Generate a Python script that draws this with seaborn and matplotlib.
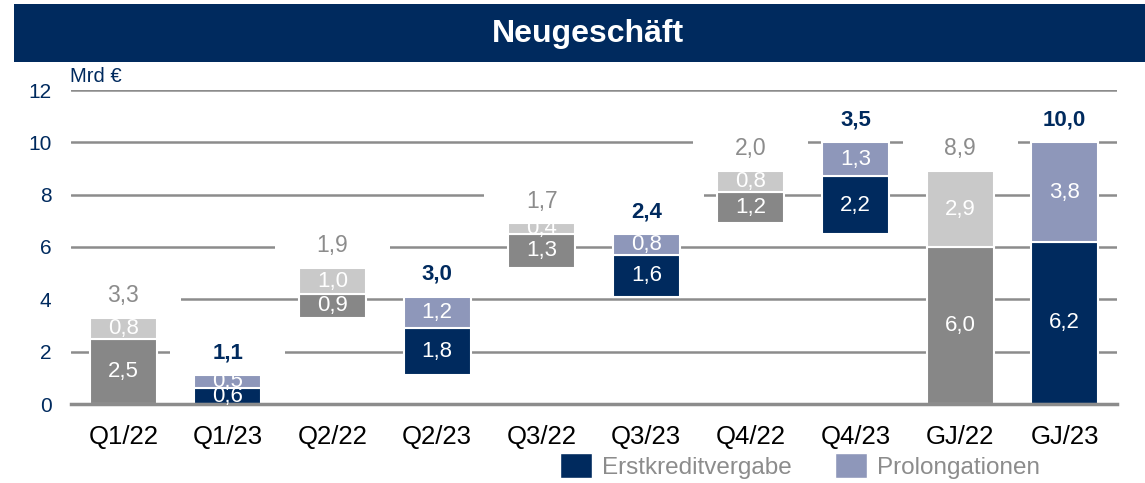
import numpy as np
import matplotlib.pyplot as plt
from matplotlib.patches import Rectangle, Patch
import seaborn as sns

# -----------------------------------------------------------------------------
# Data (Mrd €)
# -----------------------------------------------------------------------------
categories = ["Q1/22", "Q1/23", "Q2/22", "Q2/23", "Q3/22",
              "Q3/23", "Q4/22", "Q4/23", "GJ/22", "GJ/23"]
erstkredit = [2.5, 0.6, 0.9, 1.8, 1.3, 1.6, 1.2, 2.2, 6.0, 6.2]
prolongation = [0.8, 0.5, 1.0, 1.2, 0.4, 0.8, 0.8, 1.3, 2.9, 3.8]
yticks = [0, 2, 4, 6, 8, 10, 12]

# -----------------------------------------------------------------------------
# Styling
# -----------------------------------------------------------------------------
sns.set_theme(style="white")
plt.rcParams["font.family"] = ["Liberation Sans", "DejaVu Sans"]

navy = "#002A5E"
lavender = "#8E97BA"
dgray = "#878787"
lgray = "#C9C9C9"
gridc = "#8C8C8C"
txtgray = "#8C8C8C"

totals = [a + b for a, b in zip(erstkredit, prolongation)]

# floating bars: quarters stack on the previous quarters of the same year
base = []
running = {"22": 0.0, "23": 0.0}
for cat, t in zip(categories, totals):
    yr = cat[-2:]
    if cat.startswith("GJ"):
        base.append(0.0)
    else:
        base.append(running[yr])
        running[yr] += t
base = np.array(base)
mid = base + np.array(erstkredit)

is23 = [c.endswith("23") for c in categories]


def fmt(v):
    return f"{v:.1f}".replace(".", ",")


# -----------------------------------------------------------------------------
# Plot
# -----------------------------------------------------------------------------
W, H = 1145, 483
fig = plt.figure(figsize=(W / 100, H / 100), dpi=100)
ax = fig.add_axes([71 / W, 1 - 404 / H, (1117 - 71) / W, (404 - 90) / H])

# title banner
fig.patches.append(Rectangle((14 / W, 1 - 62 / H), 1 - 14 / W, 58 / H,
                             transform=fig.transFigure, facecolor=navy,
                             edgecolor="none", zorder=0))
fig.text(588 / W, 1 - 34 / H, "Neugeschäft", color="white", fontsize=23,
         fontweight="bold", ha="center", va="center")

bw = 0.64
sns.barplot(x=categories, y=erstkredit, bottom=base, width=bw, color=dgray,
            saturation=1, edgecolor="white", linewidth=1.5, ax=ax, zorder=3)
for p, y23 in zip(ax.containers[-1], is23):
    p.set_facecolor(navy if y23 else dgray)
sns.barplot(x=categories, y=prolongation, bottom=mid, width=bw, color=lgray,
            saturation=1, edgecolor="white", linewidth=1.5, ax=ax, zorder=3)
for p, y23 in zip(ax.containers[-1], is23):
    p.set_facecolor(lavender if y23 else lgray)

# segment labels
for i in range(len(categories)):
    ax.text(i, base[i] + erstkredit[i] / 2, fmt(erstkredit[i]), color="white",
            fontsize=16, ha="center", va="center", zorder=5)
    ax.text(i, mid[i] + prolongation[i] / 2, fmt(prolongation[i]), color="white",
            fontsize=16, ha="center", va="center", zorder=5)

# total labels with white boxes hiding the grid
for i, t in enumerate(totals):
    top = base[i] + t
    y = top + 0.85
    ax.add_patch(Rectangle((i - 0.55, y - 0.72), 1.1, 1.44, facecolor="white",
                           edgecolor="none", zorder=1.5))
    if is23[i]:
        ax.text(i, y, fmt(t), color=navy, fontsize=16, fontweight="bold",
                ha="center", va="center", zorder=5)
    else:
        ax.text(i, y, fmt(t), color=txtgray, fontsize=16.5,
                ha="center", va="center", zorder=5)

# axes
ax.set_xlim(-0.5, len(categories) - 0.5)
ax.set_ylim(0, 12)
ax.set_yticks(yticks)
ax.set_yticklabels([str(v) for v in yticks], color=navy, fontsize=15)
ax.set_xticks(range(len(categories)))
ax.set_xticklabels(categories, color="black", fontsize=18.5)
ax.set_xticks(np.arange(-0.5, len(categories)), minor=True)
ax.tick_params(axis="x", which="major", length=0, pad=15)
ax.tick_params(axis="x", which="minor", length=7, width=2, color=gridc,
               direction="out")
ax.tick_params(axis="y", length=0, pad=14)
ax.set_axisbelow(True)
ax.yaxis.grid(True, color=gridc, linewidth=1.8, zorder=0)
ax.xaxis.grid(False)
for s in ["left", "top", "right"]:
    ax.spines[s].set_visible(False)
ax.spines["bottom"].set_color(gridc)
ax.spines["bottom"].set_linewidth(2.5)
ax.spines["bottom"].set_zorder(4)
ax.set_xlabel("")
ax.set_ylabel("")

fig.text(70 / W, 1 - 76 / H, "Mrd €", color=navy, fontsize=14.5,
         ha="left", va="center")

handles = [Patch(facecolor=navy, label="Erstkreditvergabe"),
           Patch(facecolor=lavender, label="Prolongationen")]
leg = fig.legend(handles=handles, loc="center", bbox_to_anchor=(800 / W, 1 - 466 / H),
                 ncol=2, frameon=False, fontsize=17.5, handlelength=1.3,
                 handleheight=1.2, handletextpad=0.4, columnspacing=1.8)
for t in leg.get_texts():
    t.set_color(txtgray)

fig.savefig("out.png", dpi=100)
